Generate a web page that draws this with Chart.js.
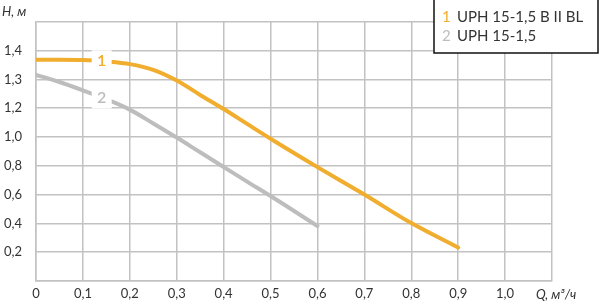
<!DOCTYPE html>
<html>
<head>
<meta charset="utf-8">
<script src="https://cdn.jsdelivr.net/npm/chart.js@4"></script>
<style>
  body { margin: 0; background: #fff; }
  #wrap { width: 600px; height: 306px; }
</style>
</head>
<body>
<div id="wrap"><canvas id="pumpChart" width="600" height="306"></canvas></div>
<script>
// flow, m3/h
const qTicks = [0, 0.1, 0.2, 0.3, 0.4, 0.5, 0.6, 0.7, 0.8, 0.9, 1.0, 1.1];
// head levels of the grid lines, bottom to top (the picture spaces them evenly)
const hLevels = [0, 0.2, 0.4, 0.6, 0.8, 1.0, 1.2, 1.3, 1.4, 1.5];
const hLabels = ['', '0,2', '0,4', '0,6', '0,8', '1,0', '1,2', '1,3', '1,4', ''];

// curve 1: UPH 15-1,5 B II BL
const q1 = [0, 0.05, 0.1, 0.15, 0.2, 0.25, 0.3, 0.35, 0.4, 0.45, 0.5, 0.6, 0.7, 0.8, 0.9];
const h1 = [1.368, 1.368, 1.367, 1.362, 1.353, 1.333, 1.296, 1.246, 1.194, 1.091, 0.988, 0.791, 0.6, 0.402, 0.232];
// curve 2: UPH 15-1,5
const q2 = [0, 0.05, 0.1, 0.15, 0.2, 0.25, 0.3, 0.35, 0.4, 0.45, 0.5, 0.6];
const h2 = [1.316, 1.291, 1.262, 1.231, 1.19, 1.094, 0.996, 0.894, 0.792, 0.69, 0.59, 0.382];

const seriesNames = ['UPH 15-1,5 B II BL', 'UPH 15-1,5'];
const seriesColors = ['#F0AD2E', '#BDBDBD'];

const gridColor = '#C2C2C2';
const textColor = '#333333';
const fontFamily = 'Lato, "Open Sans", sans-serif';

// head value -> position on the evenly spaced grid
const toGrid = (h) => {
    for (let i = 1; i < hLevels.length; i++) {
        if (h <= hLevels[i]) {
            const a = hLevels[i - 1], b = hLevels[i];
            return i - 1 + (h - a) / (b - a);
        }
    }
    return hLevels.length - 1;
};

const fmt = (v) => v === 0 ? '0' : v.toFixed(1).replace('.', ',');

const makePoints = (qs, hs) => qs.map((q, i) => ({ x: q, y: toGrid(hs[i]) }));

// number tag on each curve, with a white gap behind it
const curveTags = {
    id: 'curveTags',
    afterDatasetsDraw(chart) {
        const ctx = chart.ctx;
        const xs = chart.scales.x, ys = chart.scales.y;
        const tagQ = 0.14;
        chart.data.datasets.forEach((ds, i) => {
            const pts = ds.data;
            let g = pts[0].y;
            for (let k = 1; k < pts.length; k++) {
                if (tagQ <= pts[k].x) {
                    const t = (tagQ - pts[k - 1].x) / (pts[k].x - pts[k - 1].x);
                    g = pts[k - 1].y + t * (pts[k].y - pts[k - 1].y);
                    break;
                }
            }
            const px = xs.getPixelForValue(tagQ);
            const py = ys.getPixelForValue(g);
            ctx.save();
            ctx.fillStyle = '#fff';
            ctx.fillRect(px - 10, py - 11, 20, 22);
            ctx.fillStyle = ds.borderColor;
            ctx.font = '600 16px ' + fontFamily;
            ctx.textAlign = 'center';
            ctx.textBaseline = 'middle';
            ctx.fillText(String(i + 1), px, py);
            ctx.restore();
        });
    },
    afterDraw(chart) {
        const ctx = chart.ctx;
        ctx.save();
        // axis titles
        ctx.fillStyle = textColor;
        ctx.font = 'italic 13px ' + fontFamily;
        ctx.textBaseline = 'middle';
        ctx.textAlign = 'left';
        ctx.fillText('H, м', 2, 12);
        ctx.fillText('Q, м³/ч', 536, 295);

        // legend box
        ctx.fillStyle = '#fff';
        ctx.fillRect(434, -1, 164, 54);
        ctx.strokeStyle = '#111';
        ctx.lineWidth = 1.5;
        ctx.strokeRect(434, -1, 164, 54);
        ctx.font = '15px ' + fontFamily;
        seriesNames.forEach((name, i) => {
            const y = 17 + i * 19;
            ctx.fillStyle = seriesColors[i];
            ctx.fillText(String(i + 1), 442, y);
            ctx.fillStyle = textColor;
            ctx.fillText(name, 457, y);
        });
        ctx.restore();
    }
};

new Chart(document.getElementById('pumpChart'), {
    type: 'line',
    data: {
        datasets: [
            {
                label: seriesNames[0],
                data: makePoints(q1, h1),
                borderColor: seriesColors[0],
                borderWidth: 4,
                pointRadius: 0,
                cubicInterpolationMode: 'monotone',
                borderCapStyle: 'round'
            },
            {
                label: seriesNames[1],
                data: makePoints(q2, h2),
                borderColor: seriesColors[1],
                borderWidth: 4,
                pointRadius: 0,
                cubicInterpolationMode: 'monotone',
                borderCapStyle: 'round'
            }
        ]
    },
    options: {
        responsive: false,
        animation: false,
        layout: { padding: { top: 17, right: 48, left: 0, bottom: 0 } },
        plugins: {
            legend: { display: false },
            tooltip: { enabled: false }
        },
        scales: {
            x: {
                type: 'linear',
                min: 0,
                max: 1.1,
                afterFit: (s) => { s.height = 25; },
                afterBuildTicks: (s) => { s.ticks = qTicks.map(v => ({ value: v })); },
                ticks: {
                    padding: 5,
                    color: textColor,
                    font: { family: fontFamily, size: 13 },
                    maxRotation: 0,
                    callback: (v) => v > 1.05 ? '' : fmt(v)
                },
                grid: { color: gridColor, lineWidth: 1.5, drawTicks: false },
                border: { color: gridColor, width: 1.5 }
            },
            y: {
                type: 'linear',
                min: 0,
                max: hLevels.length - 1,
                afterFit: (s) => { s.width = 36; },
                ticks: {
                    stepSize: 1,
                    padding: 14,
                    color: textColor,
                    font: { family: fontFamily, size: 13 },
                    callback: (v) => hLabels[v] ?? ''
                },
                grid: { color: gridColor, lineWidth: 1.5, drawTicks: false },
                border: { color: gridColor, width: 1.5 }
            }
        }
    },
    plugins: [curveTags]
});
</script>
</body>
</html>
